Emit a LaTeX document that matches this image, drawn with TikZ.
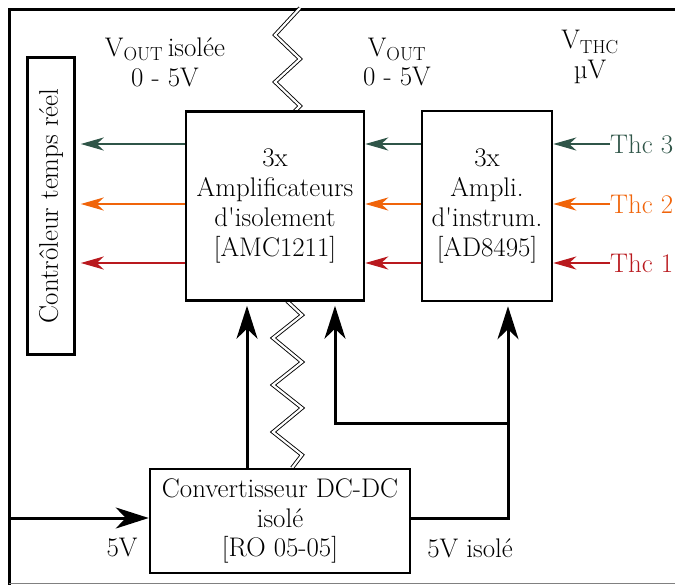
\documentclass[tikz,border=0pt]{standalone}
\usepackage{fontspec}
\usetikzlibrary{arrows.meta}
\definecolor{cthree}{RGB}{47,85,72}
\definecolor{ctwo}{RGB}{240,100,10}
\definecolor{cone}{RGB}{185,25,30}
\tikzset{
  box/.style={draw, line width=2.5bp, align=center, inner sep=0pt},
  lbl/.style={align=center, inner sep=0pt},
  thk/.style={line width=3bp, -{Stealth[length=33bp,width=21bp,inset=10bp]}},
  sig/.style={line width=2.2bp, -{Stealth[length=23bp,width=13bp,inset=7bp]}},
  zig/.style={double, line width=0.9bp, double distance=2.2bp}
}
\begin{document}
\begin{tikzpicture}[x=1bp,y=-1bp,font=\fontsize{27}{30}\selectfont]
\useasboundingbox (0,0) rectangle (675,585);
% frame
\draw[line width=3bp] (675,10) -- (9,10) -- (9,585);
\draw[gray, line width=1bp] (9,583.5) -- (675,583.5);
% zigzag
\draw[zig] (300,8) -- (275,35) -- (300,59) -- (275,82) -- (300,106) -- (294,112);
\draw[zig] (287,301) -- (302,315) -- (273,338) -- (302,362) -- (273,385) -- (302,408) -- (273,432) -- (302,455) -- (292,468);
% boxes
\node[box, minimum width=47bp, minimum height=297bp] (ctrl) at (51,206) {};
\node[rotate=90, inner sep=0pt] (ctrltxt) at (51,206) {Contrôleur temps réel};
\node[box, fill=white, minimum width=178bp, minimum height=189bp] (amc) at (275,206) {3x\\Amplificateurs\\d\textquotesingle isolement\\{[AMC1211]}};
\node[box, fill=white, minimum width=130bp, minimum height=190bp] (ad) at (487,206) {3x\\Ampli.\\d\textquotesingle instrum.\\{[AD8495]}};
\node[box, fill=white, minimum width=260bp, minimum height=104bp] (conv) at (280,521) {Convertisseur DC-DC\\isolé\\{[RO 05-05]}};
% labels
\node[lbl] (l1) at (165,62) {V\textsubscript{OUT}\,isolée\\0 - 5V};
\node[lbl] (l2) at (397,62) {V\textsubscript{OUT}\\0 - 5V};
\node[lbl] (l3) at (590,57) {V\textsubscript{THC}\\µV};
\node[anchor=west, inner sep=0pt, text=cthree] (t3) at (610,144) {Thc 3};
\node[anchor=west, inner sep=0pt, text=ctwo] (t2) at (610,204) {Thc 2};
\node[anchor=west, inner sep=0pt, text=cone] (t1) at (610,263) {Thc 1};
% signal arrows
\draw[sig, cthree] (t3.west) -- (ad.east |- t3.west);
\draw[sig, ctwo] (t2.west) -- (ad.east |- t2.west);
\draw[sig, cone] (t1.west) -- (ad.east |- t1.west);
\draw[sig, cthree] (ad.west |- t3.west) -- (amc.east |- t3.west);
\draw[sig, ctwo] (ad.west |- t2.west) -- (amc.east |- t2.west);
\draw[sig, cone] (ad.west |- t1.west) -- (amc.east |- t1.west);
\draw[sig, cthree, shorten >=5bp] (amc.west |- t3.west) -- (ctrl.east |- t3.west);
\draw[sig, ctwo, shorten >=5bp] (amc.west |- t2.west) -- (ctrl.east |- t2.west);
\draw[sig, cone, shorten >=5bp] (amc.west |- t1.west) -- (ctrl.east |- t1.west);
% power
\coordinate (a1) at (247,0);
\coordinate (j) at (335,423);
\coordinate (k) at (508,423);
\coordinate (in) at (9,518);
\draw[thk, shorten >=4bp] (conv.north -| a1) -- (amc.south -| a1);
\draw[thk, shorten >=4bp] (conv.east |- in) -| (ad.south -| k);
\draw[thk, shorten >=4bp] (k) -- (j) -- (amc.south -| j);
\draw[thk] (in) -- (conv.west |- in);
\node[lbl] (v5) at (122,548) {5V};
\node[lbl] (v5i) at (470,548) {5V isolé};
\end{tikzpicture}
\end{document}
